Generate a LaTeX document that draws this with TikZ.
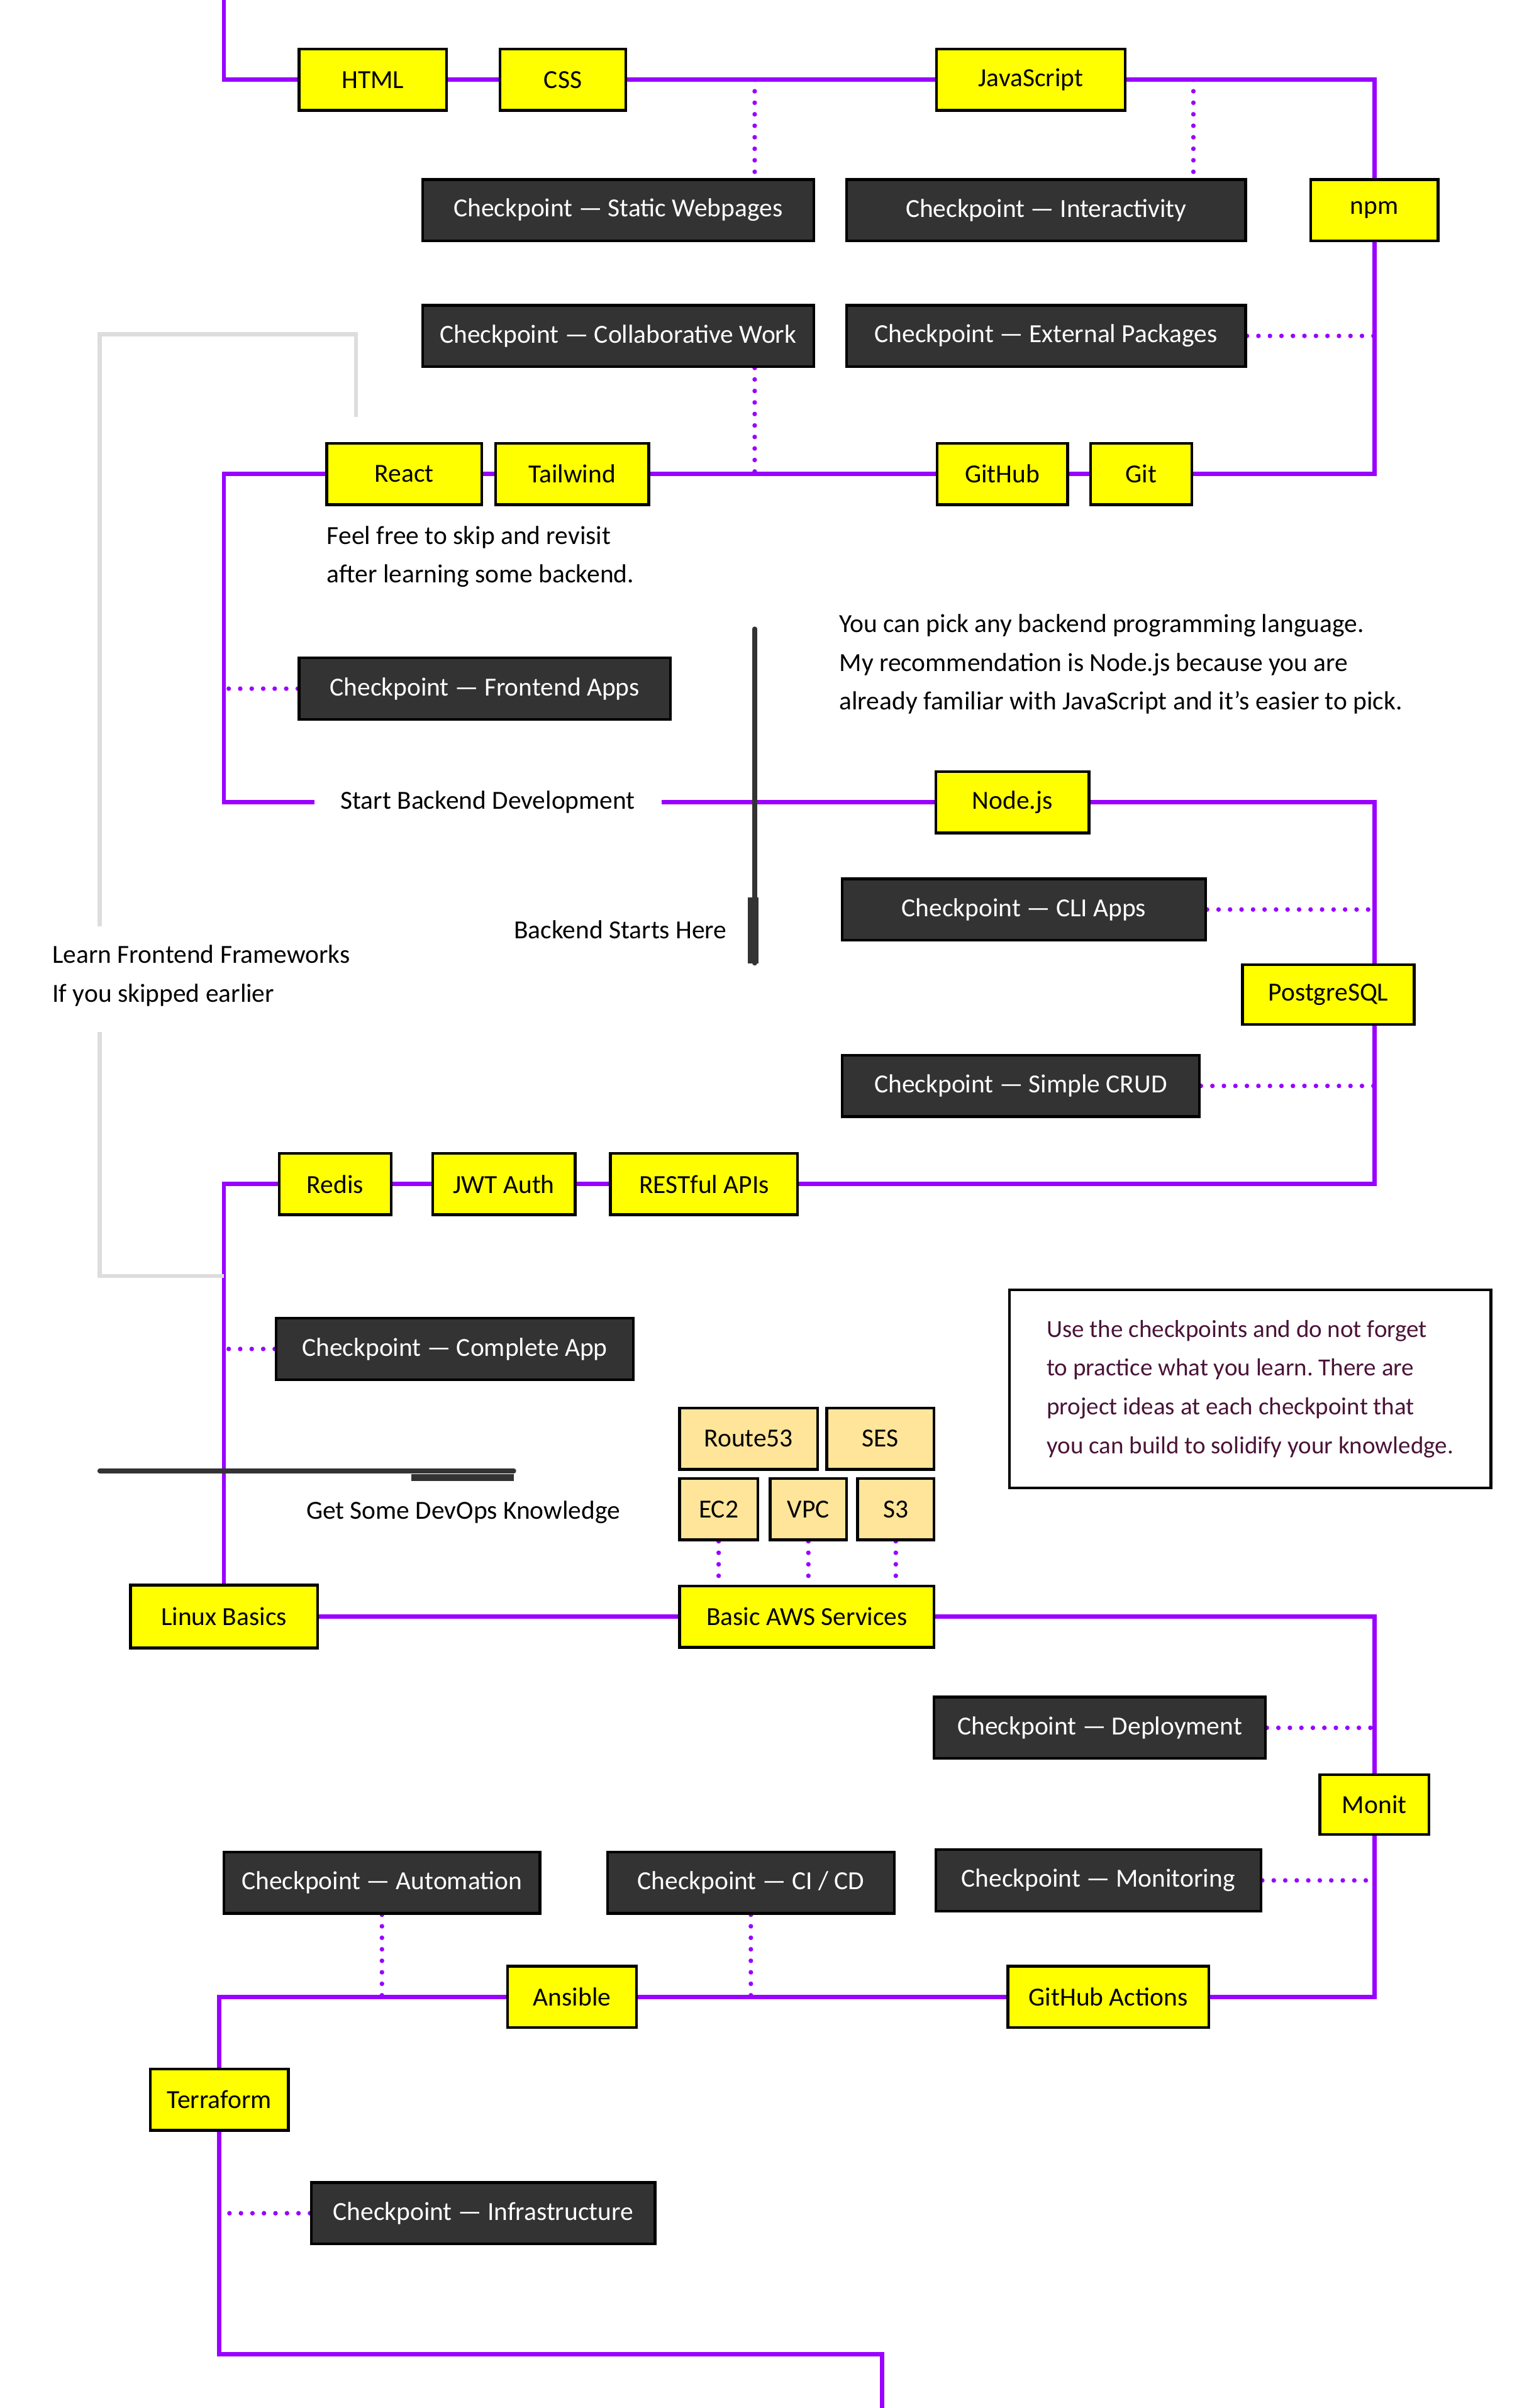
\documentclass[tikz,border=0pt]{standalone}
\usepackage{fontspec}
\setmainfont{Carlito}
\usetikzlibrary{positioning, backgrounds}
\frenchspacing

\definecolor{roadpurple}{HTML}{9900FF}
\definecolor{topicyellow}{HTML}{FFFF00}
\definecolor{awsorange}{HTML}{FFE599}
\definecolor{checkgrey}{HTML}{333333}
\definecolor{skipgrey}{HTML}{DDDDDD}
\definecolor{notemaroon}{HTML}{4A1438}

\tikzset{
  labelfont/.style={font=\fontsize{17}{20}\selectfont},
  topic/.style={draw=black, line width=1.8pt, fill=topicyellow, minimum height=40, inner sep=0pt, labelfont},
  awstopic/.style={topic, fill=awsorange},
  checkpt/.style={draw=black, line width=1.8pt, fill=checkgrey, text=white, minimum height=40, inner sep=0pt, labelfont},
  road/.style={roadpurple, line width=2.8pt},
  dotlink/.style={roadpurple, line width=3pt, line cap=round, dash pattern=on 0pt off 7.5pt},
  skipline/.style={skipgrey, line width=2.6pt},
  milestone/.style={checkgrey, line width=3pt, line cap=round},
  note/.style={align=left, inner sep=0pt, font=\fontsize{17}{25.3}\selectfont}
}

\begin{document}
\begin{tikzpicture}[x=1pt, y=-1pt]
    \useasboundingbox (0,0) rectangle (1000,1570);

    % Corners of the road
    \coordinate (top) at (146,0);
    \coordinate (lc1) at (146,52);
    \coordinate (rc1) at (896,52);
    \coordinate (rc2) at (896,309);
    \coordinate (lc2) at (146,309);
    \coordinate (lc3) at (146,523);
    \coordinate (rc3) at (896,523);
    \coordinate (rc4) at (896,772);
    \coordinate (lc4) at (146,772);
    \coordinate (rc5) at (896,1054);
    \coordinate (rc6) at (896,1302);
    \coordinate (lc5) at (143,1302);
    \coordinate (lc6) at (143,1535);
    \coordinate (bc) at (575,1535);
    \coordinate (bottom) at (575,1570);
    \coordinate (d1) at (492,52);
    \coordinate (d2) at (778,52);
    \coordinate (d3) at (492,309);

    % Frontend basics
    \node[topic, minimum width=96] (html) at (243,52) {HTML};
    \node[topic, minimum width=82] (css) at (367,52) {CSS};
    \node[topic, minimum width=123] (js) at (672,52) {JavaScript};
    \node[topic, minimum width=83] (npm) at (896,137) {npm};
    \node[checkpt, minimum width=255] (static) at (403,137) {Checkpoint — Static Webpages};
    \node[checkpt, minimum width=260] (inter) at (682,137) {Checkpoint — Interactivity};
    \node[checkpt, minimum width=255] (collab) at (403,219) {Checkpoint — Collaborative Work};
    \node[checkpt, minimum width=260] (extpkg) at (682,219) {Checkpoint — External Packages};

    % Git and frameworks
    \node[topic, minimum width=85] (github) at (653.5,309) {GitHub};
    \node[topic, minimum width=66] (git) at (744,309) {Git};
    \node[topic, minimum width=101] (react) at (263.5,309) {React};
    \node[topic, minimum width=100] (tailwind) at (373,309) {Tailwind};
    \node[note, anchor=west] (skiptext) at (213,363) {Feel free to skip and revisit\\after learning some backend.};
    \node[checkpt, minimum width=242] (feapps) at (316,449) {Checkpoint — Frontend Apps};

    % Backend
    \node[labelfont, fill=white, inner xsep=17pt, inner ysep=4pt] (startbe) at (318,523) {Start Backend Development};
    \node[note, anchor=west] (pickbe) at (547,433) {You can pick any backend programming language.\\My recommendation is Node.js because you are\\already familiar with JavaScript and it’s easier to pick.};
    \node[topic, minimum width=100] (nodejs) at (660,523) {Node.js};
    \node[checkpt, minimum width=237] (cli) at (667.5,593) {Checkpoint — CLI Apps};
    \node[topic, minimum width=112, minimum height=39] (pgsql) at (866,648.5) {PostgreSQL};
    \node[checkpt, minimum width=233] (crud) at (665.5,708) {Checkpoint — Simple CRUD};
    \node[labelfont, inner sep=0pt, anchor=east] (behere) at (474,606) {Backend Starts Here};
    \node[note, anchor=west] (learnfe) at (34,636) {Learn Frontend Frameworks\\If you skipped earlier};
    \node[topic, minimum width=122] (rest) at (459,772) {RESTful APIs};
    \node[topic, minimum width=93] (jwt) at (328.5,772) {JWT Auth};
    \node[topic, minimum width=73] (redis) at (218.5,772) {Redis};
    \node[checkpt, minimum width=233] (complete) at (296.5,879.5) {Checkpoint — Complete App};

    % DevOps
    \node[labelfont, inner sep=0pt] (devops) at (302,986) {Get Some DevOps Knowledge};
    \node[awstopic, minimum width=90] (route53) at (488,938) {Route53};
    \node[awstopic, minimum width=70] (ses) at (574,938) {SES};
    \node[awstopic, minimum width=51] (ec2) at (468.5,984) {EC2};
    \node[awstopic, minimum width=50] (vpc) at (527,984) {VPC};
    \node[awstopic, minimum width=50] (s3) at (584,984) {S3};
    \node[topic, minimum width=166] (aws) at (526,1054) {Basic AWS Services};
    \node[topic, minimum width=122, minimum height=41] (linux) at (146,1054) {Linux Basics};
    \node[draw=black, line width=1.8pt, fill=white, text=notemaroon, minimum width=314, minimum height=129,
          inner sep=0pt, align=left, font=\fontsize{16}{25.3}\selectfont] (tips) at (815,905.5)
          {Use the checkpoints and do not forget\\to practice what you learn. There are\\project ideas at each checkpoint that\\you can build to solidify your knowledge.};
    \node[checkpt, minimum width=216] (deploy) at (717,1126.5) {Checkpoint — Deployment};
    \node[topic, minimum width=71, minimum height=39] (monit) at (896,1176.5) {Monit};
    \node[checkpt, minimum width=212] (monitoring) at (716,1226) {Checkpoint — Monitoring};
    \node[checkpt, minimum width=206] (automation) at (249,1227.5) {Checkpoint — Automation};
    \node[checkpt, minimum width=187] (cicd) at (489.5,1227.5) {Checkpoint — CI / CD};
    \node[topic, minimum width=131] (ghactions) at (722.5,1302) {GitHub Actions};
    \node[topic, minimum width=84] (ansible) at (373,1302) {Ansible};
    \node[topic, minimum width=90] (terraform) at (143,1369) {Terraform};
    \node[checkpt, minimum width=224] (infra) at (315,1443) {Checkpoint — Infrastructure};

    % Milestone markers
    \draw[milestone] (492,410) -- (492,628);
    \draw[checkgrey, line width=7pt] (491,585) -- (491,628);
    \draw[milestone] (65,959) -- (335,959);
    \draw[checkgrey, line width=4.5pt] (268,963.5) -- (335,963.5);

    \begin{pgfonlayer}{background}
    % The road
    \draw[road] (top) -- (lc1) -- (html) -- (css) -- (js) -- (rc1) -- (npm) -- (rc2)
        -- (git) -- (github) -- (tailwind) -- (react) -- (lc2) -- (lc3) -- (startbe)
        -- (nodejs) -- (rc3) -- (rc4) -- (rest) -- (jwt) -- (redis) -- (lc4) -- (linux)
        -- (aws) -- (rc5) -- (monit) -- (rc6) -- (ghactions) -- (ansible) -- (lc5)
        -- (terraform) -- (lc6) -- (bc) -- (bottom);

    % Checkpoint links
    \draw[dotlink] (d1) -- (d1 |- static.north);
    \draw[dotlink] (d2) -- (d2 |- inter.north);
    \draw[dotlink] (extpkg.east) -- (extpkg.east -| rc1);
    \draw[dotlink] (d3 |- collab.south) -- (d3);
    \draw[dotlink] (feapps.west) -- (feapps.west -| lc2);
    \draw[dotlink] (cli.east) -- (cli.east -| rc3);
    \draw[dotlink] (crud.east) -- (crud.east -| rc3);
    \draw[dotlink] (complete.west) -- (complete.west -| lc4);
    \draw[dotlink] (ec2.south) -- (ec2.south |- aws.north);
    \draw[dotlink] (vpc.south) -- (vpc.south |- aws.north);
    \draw[dotlink] (s3.south) -- (s3.south |- aws.north);
    \draw[dotlink] (deploy.east) -- (deploy.east -| rc5);
    \draw[dotlink] (monitoring.east) -- (monitoring.east -| rc5);
    \draw[dotlink] (automation.south) -- (automation.south |- lc5);
    \draw[dotlink] (cicd.south) -- (cicd.south |- lc5);
    \draw[dotlink] (infra.west) -- (infra.west -| lc5);

    % Skip path
    \draw[skipline] (232,272) |- (65,218) -- (65,604);
    \draw[skipline] (65,673) |- (lc4 |- 0,832);
    \end{pgfonlayer}
\end{tikzpicture}
\end{document}
